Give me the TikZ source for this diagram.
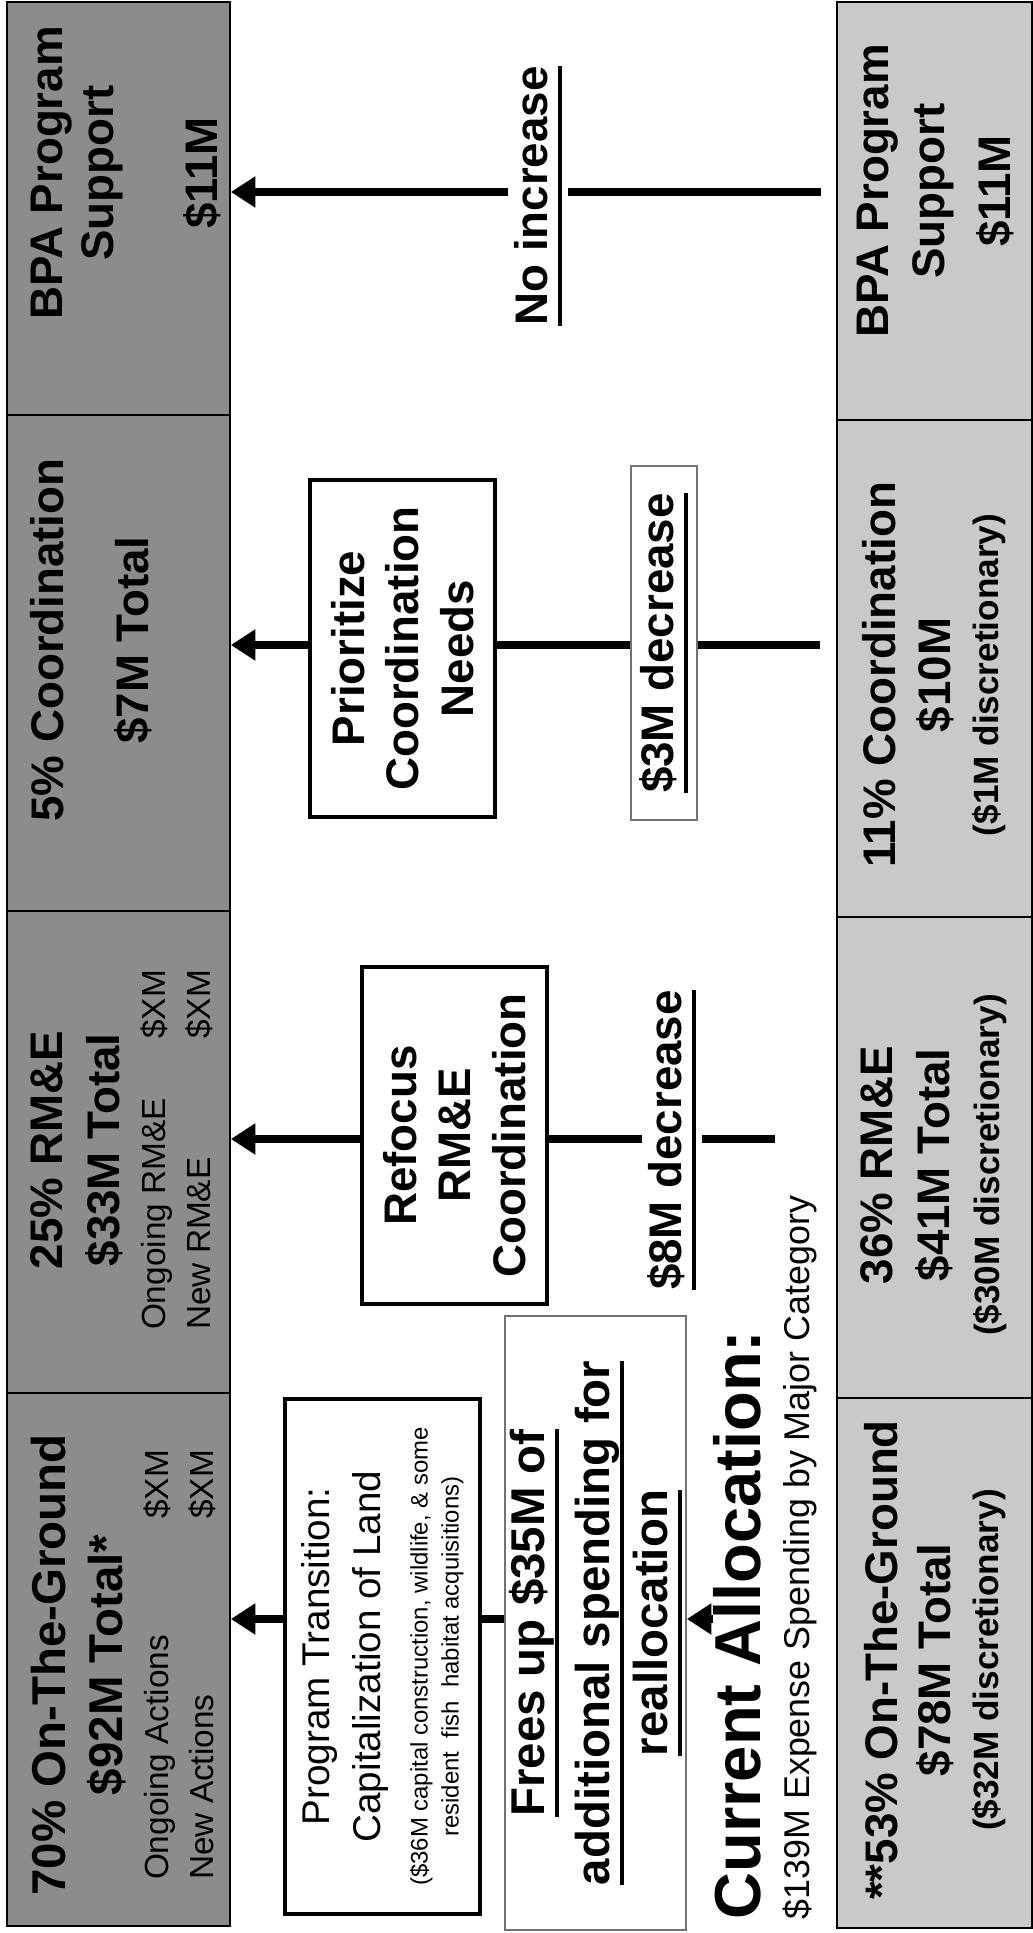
\documentclass[tikz,border=0pt]{standalone}
\usepackage{fontspec}
\setmainfont{Liberation Sans}
\usetikzlibrary{arrows.meta,calc}

\definecolor{newgray}{gray}{0.55}
\definecolor{curgray}{gray}{0.79}

\tikzset{
  newbox/.style={draw, fill=newgray, line width=0.5pt, inner sep=0pt, minimum height=2.23cm},
  curbox/.style={draw, fill=curgray, line width=0.5pt, inner sep=0pt, minimum height=1.95cm},
  hdr/.style={inner sep=0pt, anchor=north, align=center, font=\bfseries\fontsize{13}{14.5}\selectfont},
  actbox/.style={draw, fill=white, line width=0.9pt, inner sep=0pt, align=center, font=\bfseries\fontsize{13}{15.5}\selectfont},
  chg/.style={inner sep=0.05cm, font=\bfseries\fontsize{13}{15}\selectfont},
  flow/.style={line width=2.5pt},
  arr/.style={flow, -{Triangle[length=7pt,width=8.5pt]}},
}
\newcommand{\sm}{\mdseries\fontsize{9.5}{11}\selectfont}
\newcommand{\disc}{\fontsize{10}{11}\selectfont}
\newcommand{\undl}[1]{\leavevmode\setbox0\hbox{#1}\rlap{\rule[-4.2pt]{\wd0}{1.1pt}}\box0}

\begin{document}
\begin{tikzpicture}[rotate=90, transform shape]
\useasboundingbox (0,0) rectangle (19.33,10.32);

% proposed allocation (top band)
\node[newbox, minimum width=4.13cm] (newBPA) at (17.245,9.135) {};
\node[newbox, minimum width=4.96cm] (newCoord) at (12.70,9.135) {};
\node[newbox, minimum width=4.82cm] (newRME) at (7.81,9.135) {};
\node[newbox, minimum width=5.33cm] (newGround) at (2.735,9.135) {};

\node[hdr] (newBPAtxt) at (17.60,10.02) {BPA Program\\Support\\[15.1pt]\$11M};
\node[hdr] (newCoordtxt) at (12.93,10.02) {5\% Coordination\\[9.7pt]\$7M Total};
\node[hdr] (newRMEtxt) at (7.83,10.02) {25\% RM\&E\\[1.7pt]\$33M Total\\[-1.4pt]
  {\sm\makebox[3.6cm]{Ongoing RM\&E\hfill\$XM}}\\[-1.7pt]
  {\sm\makebox[3.6cm]{New RM\&E\hfill\$XM}}};
\node[hdr, font=\bfseries\fontsize{13.5}{14.5}\selectfont] (newGroundtxt) at (2.68,10.02) {70\% On-The-Ground\\[1.7pt]\$92M Total*\\[-1.4pt]
  {\sm\makebox[4.3cm]{Ongoing Actions\hfill\$XM}}\\[-1.7pt]
  {\sm\makebox[4.3cm]{New Actions\hfill\$XM}}};

% current allocation (bottom band)
\node[curbox, minimum width=4.18cm] (curBPA) at (17.22,0.975) {};
\node[curbox, minimum width=4.97cm] (curCoord) at (12.645,0.975) {};
\node[curbox, minimum width=4.81cm] (curRME) at (7.755,0.975) {};
\node[curbox, minimum width=5.30cm] (curGround) at (2.70,0.975) {};

\node[hdr] (curBPAtxt) at (17.42,1.76) {BPA Program\\[1.4pt]Support\\[4.5pt]\$11M};
\node[hdr] (curCoordtxt) at (12.58,1.70) {11\% Coordination\\[1.1pt]\$10M\\[-0.8pt]{\disc(\$1M discretionary)}};
\node[hdr] (curRMEtxt) at (7.68,1.72) {36\% RM\&E\\[1.7pt]\$41M Total\\[-0.3pt]{\disc(\$30M discretionary)}};
\node[hdr] (curGroundtxt) at (2.73,1.68) {**53\% On-The-Ground\\[0.5pt]\$78M Total\\[-0.8pt]{\disc(\$32M discretionary)}};

% actions
\node[actbox, minimum width=3.37cm, minimum height=1.85cm] (prior) at (12.845,6.295) {Prioritize\\Coordination\\Needs};
\node[actbox, minimum width=3.37cm, minimum height=1.85cm] (refocus) at (7.975,5.775) {Refocus\\RM\&E\\Coordination};
\node[actbox, minimum width=5.15cm, minimum height=1.95cm, font=\mdseries\fontsize{11}{14.5}\selectfont] (transit) at (2.765,6.495)
  {Program Transition:\\Capitalization of Land\\[-1.1pt]
   {\fontsize{6.8}{8}\selectfont(\$36M capital construction, wildlife, \& some}\\[-5.7pt]
   {\fontsize{6.8}{8}\selectfont resident~~fish~~habitat acquisitions)}};
\node[draw=black!55, line width=0.5pt, inner sep=0pt, minimum width=6.14cm, minimum height=1.81cm, align=center,
  font=\bfseries\fontsize{13.5}{16.5}\selectfont] (frees) at (3.10,4.365)
  {\undl{Frees up \$35M of}\\[2pt]\undl{additional spending for}\\\undl{reallocation}};

\node[chg, draw=black!55, line width=0.5pt, inner sep=0pt, minimum width=3.54cm, minimum height=0.66cm] (dec3) at (12.90,3.68) {\undl{\$3M decrease}};
\node[chg] (dec8) at (7.93,3.60) {\undl{\$8M decrease}};
\node[chg] (noinc) at (17.37,4.94) {\undl{No increase}};

\node[anchor=base west, inner sep=0pt, font=\bfseries\fontsize{18.5}{20}\selectfont] (curalloc) at (0.13,2.71) {Current Allocation:};
\node[anchor=base west, inner sep=0pt, font=\fontsize{10.2}{12}\selectfont] (expense) at (0.13,2.22) {\$139M Expense Spending by Major Category};

% connectors
\coordinate (s1) at (17.41,2.11);
\coordinate (s2) at (12.88,2.12);
\coordinate (s3) at (7.94,2.57);
\coordinate (s4) at (3.14,4.365);

\draw[flow] (s1) -- (s1 |- noinc.south);
\draw[arr] (s1 |- noinc.north) -- (s1 |- newBPA.south);
\draw[flow] (s2) -- (s2 |- dec3.south);
\draw[flow] (s2 |- dec3.north) -- (s2 |- prior.south);
\draw[arr] (s2 |- prior.north) -- (s2 |- newCoord.south);
\draw[flow] (s3) -- (s3 |- dec8.south);
\draw[flow] (s3 |- dec8.north) -- (s3 |- refocus.south);
\draw[arr] (s3 |- refocus.north) -- (s3 |- newRME.south);
\draw[flow] (s4 |- frees.north) -- (s4 |- transit.south);
\draw[arr] (s4 |- transit.north) -- (s4 |- newGround.south);
\draw[arr] (s4 |- curalloc.north) -- (s4 |- frees.south);
\end{tikzpicture}
\end{document}
